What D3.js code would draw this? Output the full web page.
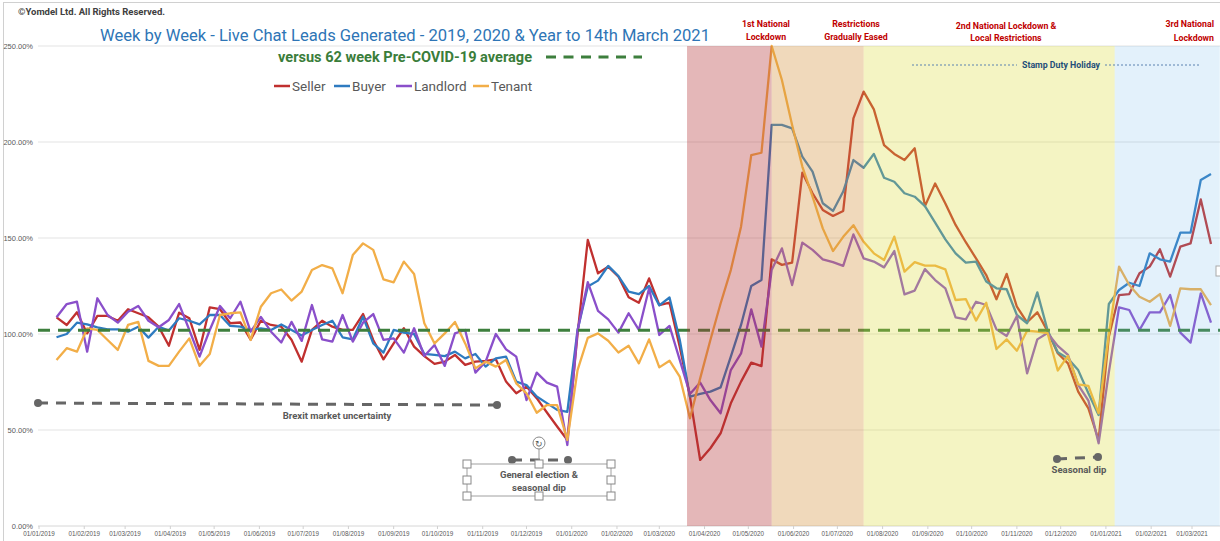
<!DOCTYPE html>
<html><head><meta charset="utf-8">
<script src="https://cdn.jsdelivr.net/npm/d3@7"></script>
<style>
html,body{margin:0;padding:0;background:#fff;}
svg{display:block;font-family:"Liberation Sans Narrow","Roboto","Liberation Sans",sans-serif;}
</style></head>
<body><svg id="chart" width="1220" height="541"></svg>
<script>
// ---------- DATA ----------
const firstWeek = "2019-01-13";   // week-ending dates, weekly to 14/03/2021
const seller = [108.7,104.7,111.3,100.3,109.4,109.4,106.9,112.9,110.8,108.7,
103.8,93.9,111.1,108.2,91.7,113.9,112.9,105.6,106.0,97.0,
106.9,104.7,103.8,97.0,85.6,102.1,106.9,103.8,102.1,102.1,
110.4,96.9,86.8,95.1,103.0,93.4,88.5,84.4,85.6,89.1,
83.9,85.6,86.0,86.8,75.2,69.1,72.6,66.6,59.1,51.8,
44.8,100.0,149.0,131.6,135.1,129.9,119.1,116.3,129.0,115.1,
116.3,93.4,67.4,34.4,40.5,48.3,63.9,75.2,85.1,83.3,
138.9,136.0,137.2,184.0,173.3,164.6,161.5,164.1,212.3,226.2,
217.0,198.4,193.8,190.6,196.7,166.6,178.4,168.0,156.8,147.8,
139.4,130.7,118.1,131.3,114.2,106.1,111.3,101.5,90.0,84.7,
70.0,61.3,44.8,98.6,120.3,120.8,131.6,135.1,144.1,129.9,
145.5,147.2,170.1,146.9];
const buyer = [98.3,100.0,105.9,105.0,103.5,102.4,102.4,101.2,103.8,98.1,
103.8,101.8,108.2,106.9,105.0,109.9,109.9,104.2,103.8,102.1,
102.9,102.1,105.0,102.1,99.2,102.1,104.7,106.9,98.3,97.2,
109.0,95.1,90.3,102.1,100.7,100.0,89.6,89.1,88.5,90.8,
87.3,89.6,83.0,87.3,88.2,75.2,73.4,67.4,64.0,60.5,
59.5,102.1,124.7,127.8,135.5,130.2,122.1,120.8,125.0,114.9,
119.0,97.0,67.4,68.8,70.0,72.2,88.2,104.7,125.0,128.1,
208.9,208.9,207.1,192.4,184.6,168.1,164.1,174.2,190.6,186.6,
193.8,181.4,179.3,173.3,171.5,166.6,158.0,149.3,142.0,137.2,
137.7,127.3,123.8,123.3,109.9,105.6,121.7,102.0,90.5,87.3,
81.2,69.1,57.8,115.6,122.9,126.7,125.0,142.0,138.9,137.7,
152.8,152.8,180.2,183.3];
const landlord = [108.7,115.6,116.8,90.8,118.6,109.9,105.9,111.6,114.6,106.9,
103.5,107.3,115.6,102.1,88.2,102.1,114.6,108.2,116.8,101.2,
108.9,101.2,95.6,106.3,96.4,115.1,97.2,96.0,109.9,96.0,
105.9,110.4,96.9,97.7,90.3,103.0,88.5,94.3,83.4,100.3,
102.1,79.9,85.6,100.0,92.0,88.2,65.6,79.9,74.7,72.6,
42.2,102.0,127.0,112.0,107.6,100.7,110.8,102.1,123.8,99.5,
104.2,86.5,68.8,74.7,65.6,58.7,81.2,89.9,112.8,93.4,
133.3,144.6,125.5,147.6,143.8,138.9,137.4,135.5,151.9,139.4,
137.7,134.7,143.2,120.6,122.6,133.8,128.1,123.8,108.6,107.6,
116.8,115.1,102.4,99.0,109.4,79.5,97.2,100.5,93.8,89.1,
73.5,65.3,43.1,80.0,113.9,112.5,102.1,111.3,111.3,120.3,
100.7,95.5,121.2,105.9];
const tenant = [86.5,92.6,90.8,102.9,102.1,96.9,91.7,104.7,106.3,86.0,
83.4,83.4,90.8,97.7,83.4,89.6,109.9,110.8,111.3,96.9,
114.2,121.2,123.2,117.4,122.1,133.3,135.9,134.2,121.2,141.1,
147.2,143.8,128.5,126.9,137.7,131.3,105.6,95.1,100.3,106.3,
95.1,82.1,85.6,83.0,86.5,74.3,69.1,59.0,63.0,63.0,
44.8,81.2,98.0,100.3,96.5,90.4,93.9,84.7,97.2,82.6,
86.1,77.8,56.1,76.9,96.9,115.9,133.3,155.9,193.2,194.4,
250.0,232.3,208.9,187.2,171.6,155.0,143.2,150.6,156.7,148.0,
142.0,138.5,150.7,132.5,137.4,135.6,135.6,133.7,117.7,118.2,
107.0,116.3,92.2,97.2,91.3,101.7,101.2,100.5,81.0,88.6,
73.8,73.0,58.7,100.0,135.1,125.5,119.4,116.8,120.8,104.2,
123.8,123.3,123.3,115.1];
const preCovidAverage = 102;
const seriesNames = ["Seller","Buyer","Landlord","Tenant"];
const yTicks = [0,50,100,150,200,250];
const bandStarts = ["2020-03-20","2020-05-17","2020-07-19","2021-01-07"];
const bandEnds   = ["2020-05-17","2020-07-19","2021-01-07","2021-03-20"];
const bandLabels = [["1st National","Lockdown"],["Restrictions","Gradually Eased"],["2nd National Lockdown &","Local Restrictions"],["3rd National","Lockdown"]];
const axisStart = "2019-01-01", axisEnd = "2021-03-14";
const tickStart = "2019-01-01", tickEnd = "2021-03-02";

// ---------- SETUP ----------
const parse = d3.utcParse("%Y-%m-%d");
const svg = d3.select("#chart");
const colors = ["#c0302f","#2e7bc0","#8a4fca","#f2ae48"];
const x = d3.scaleUtc().domain([parse(axisStart), parse(axisEnd)]).range([39, 1211]);
const y = d3.scaleLinear().domain([0,250]).range([526, 46]);
const dates = seller.map((_, i) => d3.utcDay.offset(parse(firstWeek), 7*i));
const allSeries = [seller, buyer, landlord, tenant];

// chart frame lines
svg.append("line").attr("x1",3).attr("x2",1220).attr("y1",2.5).attr("y2",2.5).attr("stroke","#d0d0d0");
svg.append("line").attr("x1",3.5).attr("x2",3.5).attr("y1",2).attr("y2",541).attr("stroke","#d0d0d0");

// gridlines
svg.append("g").selectAll("line").data(yTicks).join("line")
  .attr("x1",38).attr("x2",1220).attr("y1",d=>y(d)).attr("y2",d=>y(d))
  .attr("stroke",(d)=>d===0?"#d6d6d6":"#e3e3e3").attr("stroke-width",1);

// y labels
svg.append("g").selectAll("text").data(yTicks).join("text")
  .attr("x",33).attr("y",d=>y(d)+3).attr("text-anchor","end")
  .attr("font-size",7.5).attr("fill","#595959").attr("font-family","Liberation Sans, sans-serif")
  .text(d=>d.toFixed(2)+"%");

// x axis ticks/labels
const months = d3.utcMonth.range(parse(tickStart), parse(tickEnd));
const fmt = d3.utcFormat("%d/%m/%Y");
const xa = svg.append("g");
xa.selectAll("line").data(months).join("line")
  .attr("x1",d=>x(d)).attr("x2",d=>x(d)).attr("y1",526).attr("y2",529).attr("stroke","#d0d0d0");
xa.selectAll("text").data(months).join("text")
  .attr("x",d=>x(d)).attr("y",536).attr("text-anchor","middle")
  .attr("font-size",6.3).attr("fill","#595959").attr("font-family","Liberation Sans, sans-serif")
  .text(d=>fmt(d));

// series lines
const line = d3.line().x((d,i)=>x(dates[i])).y(d=>y(d));
svg.append("g").selectAll("path").data(allSeries).join("path")
  .attr("d",d=>line(d)).attr("fill","none")
  .attr("stroke",(d,i)=>colors[i]).attr("stroke-width",2.3).attr("stroke-linejoin","round");

// average dashed line
svg.append("line").attr("x1",38).attr("x2",1220).attr("y1",y(preCovidAverage)).attr("y2",y(preCovidAverage))
  .attr("stroke","#3d7f3d").attr("stroke-width",3).attr("stroke-dasharray","12 8");

// bands (translucent, over lines)
const bandFill = ["rgba(178,49,52,0.35)","rgba(212,146,61,0.35)","rgba(218,218,55,0.3)","rgba(115,185,235,0.2)"];
svg.append("g").selectAll("rect").data(bandStarts).join("rect")
  .attr("x",(d)=>x(parse(d))).attr("width",(d,i)=>x(parse(bandEnds[i]))-x(parse(d)))
  .attr("y",y(250)).attr("height",y(0)-y(250)).attr("fill",(d,i)=>bandFill[i]);

// band labels
const lblPos = [[766,"middle"],[856,"middle"],[1006,"middle"],[1214,"end"]];
const lblY = [[24,37],[24,37],[26,38],[24,38]];
bandLabels.forEach((l,i)=>{
  l.forEach((t,j)=>{
    svg.append("text").attr("x",lblPos[i][0]).attr("y",lblY[i][j]+3).attr("text-anchor",lblPos[i][1])
      .attr("font-size",8.8).attr("font-weight","bold").attr("fill","#c00000").text(t);
  });
});

// stamp duty holiday
svg.append("line").attr("x1",912).attr("x2",1017).attr("y1",65).attr("y2",65)
  .attr("stroke","#5a82b0").attr("stroke-width",1).attr("stroke-dasharray","2 2");
svg.append("line").attr("x1",1105).attr("x2",1201).attr("y1",65).attr("y2",65)
  .attr("stroke","#5a82b0").attr("stroke-width",1).attr("stroke-dasharray","2 2");
svg.append("text").attr("x",1061).attr("y",68).attr("text-anchor","middle")
  .attr("font-size",8.8).attr("font-weight","bold").attr("fill","#1f4e79").text("Stamp Duty Holiday");

// copyright
svg.append("text").attr("x",18).attr("y",15).attr("font-size",9).attr("font-weight","bold")
  .attr("fill","#404040").attr("textLength",147).attr("lengthAdjust","spacingAndGlyphs")
  .text("©Yomdel Ltd. All Rights Reserved.");

// title
svg.append("text").attr("x",100).attr("y",41).attr("font-size",17).attr("fill","#2e75b6")
  .attr("textLength",610).attr("lengthAdjust","spacingAndGlyphs")
  .text("Week by Week - Live Chat Leads Generated - 2019, 2020 & Year to 14th March 2021");

// subtitle
svg.append("text").attr("x",278).attr("y",62).attr("font-size",14.5).attr("font-weight","bold").attr("fill","#3a7d3a")
  .attr("textLength",254).attr("lengthAdjust","spacingAndGlyphs")
  .text("versus 62 week Pre-COVID-19 average");
svg.append("line").attr("x1",546).attr("x2",642).attr("y1",57).attr("y2",57)
  .attr("stroke","#3d7f3d").attr("stroke-width",3).attr("stroke-dasharray","10 7.5");

// legend
const legX = [274,334,396,473];
seriesNames.forEach((n,i)=>{
  svg.append("line").attr("x1",legX[i]).attr("x2",legX[i]+16).attr("y1",86).attr("y2",86)
    .attr("stroke",colors[i]).attr("stroke-width",2.5);
  svg.append("text").attr("x",legX[i]+18).attr("y",91).attr("font-size",13.5).attr("fill","#595959").text(n);
});

// annotation helper
function dashNote(x1,y1,x2,y2,label,lx,ly){
  svg.append("line").attr("x1",x1).attr("y1",y1).attr("x2",x2).attr("y2",y2)
    .attr("stroke","#666").attr("stroke-width",3).attr("stroke-dasharray","10 8");
  svg.append("circle").attr("cx",x1).attr("cy",y1).attr("r",4).attr("fill","#666");
  svg.append("circle").attr("cx",x2).attr("cy",y2).attr("r",4).attr("fill","#666");
  if(label) label.forEach((t,j)=>svg.append("text").attr("x",lx).attr("y",ly+j*13).attr("text-anchor","middle")
    .attr("font-size",9.5).attr("font-weight","bold").attr("fill","#595959").text(t));
}
dashNote(38,403,497,405,["Brexit market uncertainty"],337,419);
dashNote(1057,459,1098,457,["Seasonal dip"],1079,473);
dashNote(512,460,568,460,null);

// General election text box (selected shape)
const bx=467, by=464, bw=144, bh=32;
svg.append("rect").attr("x",bx).attr("y",by).attr("width",bw).attr("height",bh)
  .attr("fill","none").attr("stroke","#c0c0c0").attr("stroke-width",1.5);
svg.append("line").attr("x1",bx+bw/2).attr("x2",bx+bw/2).attr("y1",449).attr("y2",by).attr("stroke","#999");
svg.append("circle").attr("cx",bx+bw/2).attr("cy",443).attr("r",6).attr("fill","#fff").attr("stroke","#888");
svg.append("text").attr("x",bx+bw/2).attr("y",446.5).attr("text-anchor","middle").attr("font-size",9).attr("fill","#555").text("↻");
[[0,0],[0.5,0],[1,0],[0,0.5],[1,0.5],[0,1],[0.5,1],[1,1]].forEach(p=>{
  svg.append("rect").attr("x",bx+p[0]*bw-4).attr("y",by+p[1]*bh-4).attr("width",8).attr("height",8)
    .attr("fill","#fff").attr("stroke","#888");
});
svg.append("text").attr("x",bx+bw/2).attr("y",478).attr("text-anchor","middle").attr("font-size",9.5).attr("font-weight","bold").attr("fill","#595959").text("General election &");
svg.append("text").attr("x",bx+bw/2).attr("y",491).attr("text-anchor","middle").attr("font-size",9.5).attr("font-weight","bold").attr("fill","#595959").text("seasonal dip");

// chart handle at right edge
svg.append("rect").attr("x",1216).attr("y",266).attr("width",6).attr("height",10).attr("fill","#fff").attr("stroke","#aaa");
</script>
</body></html>
